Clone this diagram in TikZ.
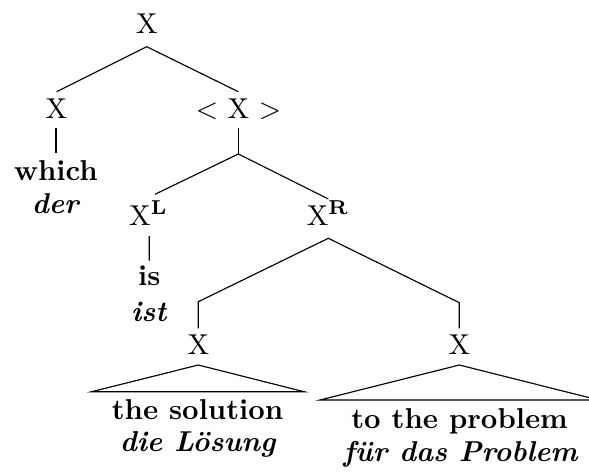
\documentclass[tikz,border=0pt]{standalone}
\usetikzlibrary{calc}
\begin{document}
\begin{tikzpicture}[x=0.348pt,y=-0.348pt,
  lbl/.style={anchor=base,inner sep=0pt},
  edge/.style={draw=black,line width=0.4pt}]
\useasboundingbox (0,0) rectangle (589,471);
\clip (0,0) rectangle (589,471);
% nodes
\node[lbl] (r)  at (147,33.3)    {X};
\node[lbl] (xa) at (56.5,118.3)  {X};
\node[lbl] (xb) at (238.5,118.3) {$<$ X $>$};
\node[lbl] (wa) at (56,180)      {\textbf{which}};
\node[lbl] (wb) at (56,213.3)    {\textbf{\textit{der}}};
\node[lbl] (xl) at (148.5,225)   {X$^{\mathbf{L}}$};
\node[lbl] (xr) at (328,225)     {X$^{\mathbf{R}}$};
\node[lbl] (ia) at (149.3,285.7) {\textbf{is}};
\node[lbl] (ib) at (149.3,321)   {\textbf{\textit{ist}}};
\node[lbl] (xc) at (198.3,354)   {X};
\node[lbl] (xd) at (459.3,354)   {X};
\node[lbl] (sa) at (197.5,419)   {\textbf{the solution}};
\node[lbl] (sb) at (198,451.7)   {\textbf{\textit{die Lösung}}};
\node[lbl] (pa) at (459.5,428.3) {\textbf{to the problem}};
\node[lbl] (pb) at (461,461)     {\textbf{\textit{für das Problem}}};
% junctions
\coordinate (jr) at ($(r.base)+(-0.3,13.4)$);
\coordinate (jb) at ($(xb.base)+(-0.2,35.7)$);
\coordinate (jc) at ($(xr.base)+(0.3,13.3)$);
% edges
\draw[edge] ($(xa.base)+(0.2,-26.6)$) -- (jr) -- ($(xb.base)+(-0.2,-26.6)$);
\draw[edge] ($(xa.base)+(-0.5,10)$) -- ($(wa.base)+(0,-26.7)$);
\draw[edge] ($(xb.base)+(-0.2,10)$) -- (jb);
\draw[edge] ($(xl.base)+(6.5,-30.7)$) -- (jb) -- ($(xr.base)+(0.3,-26)$);
\draw[edge] ($(xl.base)+(0.8,11)$) -- ($(ia.base)+(0,-25)$);
\draw[edge] ($(xc.base)+(0,-25.7)$) -- ($(xc.base)+(0,-52.3)$) -- (jc)
  -- ($(xd.base)+(0,-51.3)$) -- ($(xd.base)+(0,-25.7)$);
\draw[edge] ($(xc.base)+(0,11)$) -- ($(xc.base)+(-106.6,37.7)$) -- ($(xc.base)+(105.7,37.7)$) -- cycle;
\draw[edge] ($(xd.base)+(0,11)$) -- ($(xd.base)+(-139.3,46)$) -- ($(xd.base)+(139.3,46)$) -- cycle;
\end{tikzpicture}
\end{document}
